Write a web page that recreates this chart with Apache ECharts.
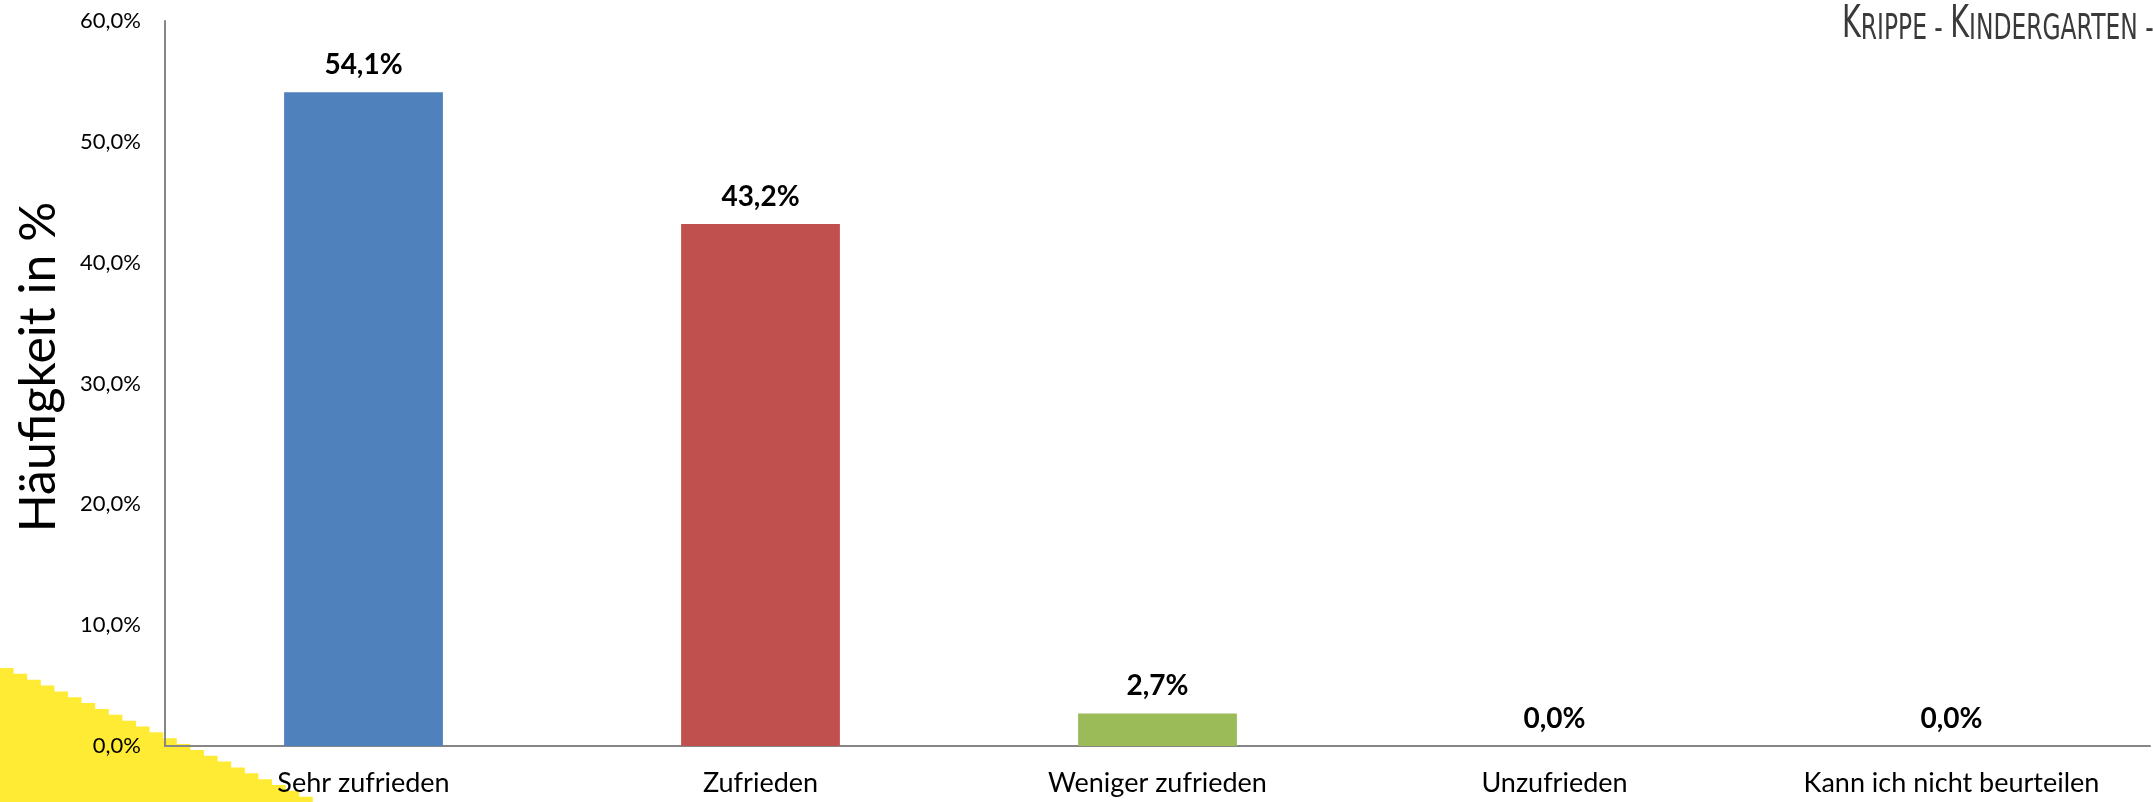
<!DOCTYPE html>
<html><head><meta charset="utf-8">
<script src="https://cdn.jsdelivr.net/npm/echarts@6/dist/echarts.min.js"></script>
<style>html,body{margin:0;padding:0;background:#fff}#c{width:2153px;height:802px}</style>
</head><body><div id="c"></div>
<script>
const categories = ['Sehr zufrieden', 'Zufrieden', 'Weniger zufrieden', 'Unzufrieden', 'Kann ich nicht beurteilen'];
const values = [54.1, 43.2, 2.7, 0.0, 0.0];
const barColors = ['#4F81BD', '#C0504D', '#9BBB59', '#8064A2', '#4BACC6'];
const yTicks = [0, 10, 20, 30, 40, 50, 60];
const yTitle = 'Häufigkeit in %';
const cornerWords = ['Krippe', '-', 'Kindergarten', '-'];

const fmt = v => v.toFixed(1).replace('.', ',') + '%';

// small-caps style corner text as rich text
const cornerRich = cornerWords.map(w => w === '-' ? '{s|-}' :
  '{b|' + w[0].toUpperCase() + '}{s|' + w.slice(1).toUpperCase() + '}').join('{s| }');

// decorative yellow staircase in the lower-left corner
const stairs = [[0, 802], [0, 668]];
for (let i = 0; i < 23; i++) {
  const x = i * 13.6, y = 668 + i * 5.85;
  stairs.push([x + 13.6, y]); stairs.push([x + 13.6, y + 5.85]);
}
stairs.push([320, 802]);

const chart = echarts.init(document.getElementById('c'), null, {renderer: 'canvas'});
chart.setOption({
  animation: false,
  backgroundColor: '#fff',
  grid: {left: 165, right: 3, top: 21, bottom: 56, containLabel: false},
  graphic: [
    {type: 'polygon', z: -10, shape: {points: stairs}, style: {fill: '#FFEB33'}, silent: true},
    {type: 'text', x: 39, y: 367, rotation: Math.PI / 2,
      style: {text: yTitle, font: '50px Lato', fill: '#000', align: 'center', verticalAlign: 'middle'}},
    {type: 'text', x: 1842, y: 26, scaleX: 0.65,
      style: {text: cornerRich, fill: '#3a3a3a', align: 'left', verticalAlign: 'middle',
        rich: {
          b: {fontFamily: 'DejaVu Sans', fontSize: 44, fill: '#3a3a3a', verticalAlign: 'bottom'},
          s: {fontFamily: 'DejaVu Sans', fontSize: 36, fill: '#3a3a3a', verticalAlign: 'bottom'}
        }}}
  ],
  xAxis: {
    type: 'category', data: categories,
    axisLine: {lineStyle: {color: '#868686', width: 2}},
    axisTick: {show: false},
    axisLabel: {color: '#000', fontFamily: 'Lato', fontSize: 27, margin: 24}
  },
  yAxis: {
    type: 'value', min: 0, max: 60, interval: 10,
    axisLine: {show: true, lineStyle: {color: '#868686', width: 2}},
    axisTick: {show: false},
    splitLine: {show: false},
    axisLabel: {color: '#000', fontFamily: 'Lato', fontSize: 22, margin: 24, formatter: fmt}
  },
  series: [{
    type: 'bar', data: values.map((v, i) => ({value: v, itemStyle: {color: barColors[i]}})),
    barCategoryGap: '60%',
    label: {show: true, position: 'top', distance: 13, color: '#000', fontFamily: 'Lato', fontWeight: 'bold', fontSize: 28,
      formatter: p => fmt(p.value)}
  }]
});
</script></body></html>
